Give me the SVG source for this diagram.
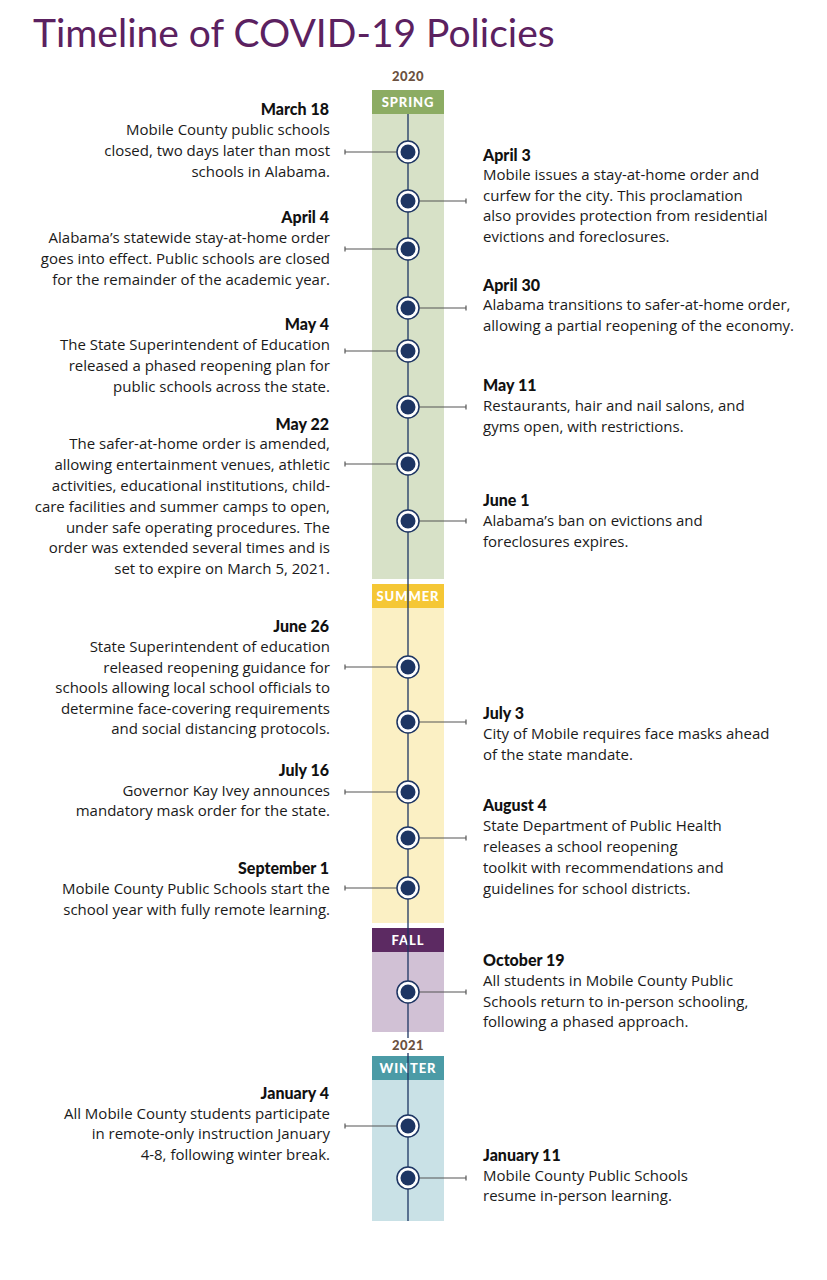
<svg xmlns="http://www.w3.org/2000/svg" width="827" height="1280" viewBox="0 0 827 1280">
<style>
.title{font-family:Lato,"Open Sans",sans-serif;font-size:39px;fill:#5b2160}
.yr{font-family:Lato,"Open Sans",sans-serif;font-size:13px;font-weight:900;fill:#6b5140;text-anchor:middle;letter-spacing:0.5px}
.sea{font-family:Lato,"Open Sans",sans-serif;font-size:13px;font-weight:900;fill:#ffffff;text-anchor:middle;letter-spacing:0.9px}
.h{font-family:Lato,"Open Sans",sans-serif;font-size:16px;font-weight:900;fill:#111}
.t{font-family:"Open Sans",Lato,sans-serif;font-size:15px;fill:#1a1a1a}
.L{text-anchor:end}
.c{stroke:#555;stroke-width:1.2;fill:none}
.ring{fill:#fff;stroke:#1d3563;stroke-width:1.5}
.dot{fill:#1d3563}
</style>
<rect width="827" height="1280" fill="#fff"/>
<text class="title" x="33" y="47">Timeline of COVID-19 Policies</text>

<g id="bands">
<text class="yr" x="408" y="81">2020</text>
<rect x="372" y="90" width="72" height="24" fill="#8cac63"/>
<text class="sea" x="408" y="107">SPRING</text>
<rect x="372" y="114" width="72" height="465" fill="#d7e1c7"/>
<rect x="372" y="584" width="72" height="24" fill="#f5c735"/>
<text class="sea" x="408" y="601">SUMMER</text>
<rect x="372" y="608" width="72" height="315" fill="#fbf0c4"/>
<rect x="372" y="928" width="72" height="24" fill="#5c2a62"/>
<text class="sea" x="408" y="945">FALL</text>
<rect x="372" y="952" width="72" height="80" fill="#d1c1d5"/>
<rect x="372" y="1056" width="72" height="24" fill="#4b9ba6"/>
<text class="sea" x="408" y="1073">WINTER</text>
<rect x="372" y="1080" width="72" height="141" fill="#c9e1e6"/>
</g>

<g id="connectors">
<line x1="408" y1="114" x2="408" y2="1221" stroke="#1d3563" stroke-width="1.3"/>
<path class="c" d="M345 152H397M345 149.5V154.5"/>
<path class="c" d="M419 201H466M466 198.5V203.5"/>
<path class="c" d="M345 249H397M345 246.5V251.5"/>
<path class="c" d="M419 308H466M466 305.5V310.5"/>
<path class="c" d="M345 351H397M345 348.5V353.5"/>
<path class="c" d="M419 407H466M466 404.5V409.5"/>
<path class="c" d="M345 464H397M345 461.5V466.5"/>
<path class="c" d="M419 521H466M466 518.5V523.5"/>
<path class="c" d="M345 667H397M345 664.5V669.5"/>
<path class="c" d="M419 722H466M466 719.5V724.5"/>
<path class="c" d="M345 792H397M345 789.5V794.5"/>
<path class="c" d="M419 838H466M466 835.5V840.5"/>
<path class="c" d="M345 888H397M345 885.5V890.5"/>
<path class="c" d="M419 992H466M466 989.5V994.5"/>
<path class="c" d="M345 1126H397M345 1123.5V1128.5"/>
<path class="c" d="M419 1178H466M466 1175.5V1180.5"/>
</g>

<g id="year2021">
<rect x="388" y="1038" width="40" height="15" fill="#fff"/>
<text class="yr" x="408" y="1050">2021</text>
</g>

<defs>
<g id="node"><circle r="11" class="ring"/><circle r="7.5" class="dot"/></g>
</defs>
<g id="markers">
<use href="#node" x="408" y="152"/>
<use href="#node" x="408" y="201"/>
<use href="#node" x="408" y="249"/>
<use href="#node" x="408" y="308"/>
<use href="#node" x="408" y="351"/>
<use href="#node" x="408" y="407"/>
<use href="#node" x="408" y="464"/>
<use href="#node" x="408" y="521"/>
<use href="#node" x="408" y="667"/>
<use href="#node" x="408" y="722"/>
<use href="#node" x="408" y="792"/>
<use href="#node" x="408" y="838"/>
<use href="#node" x="408" y="888"/>
<use href="#node" x="408" y="992"/>
<use href="#node" x="408" y="1126"/>
<use href="#node" x="408" y="1178"/>
</g>

<g id="mar18">
<text class="h L" x="329" y="115">March 18</text>
<text class="t L" x="330" y="135">Mobile County public schools</text>
<text class="t L" x="330" y="156">closed, two days later than most</text>
<text class="t L" x="330" y="177">schools in Alabama.</text>
</g>
<g id="apr4">
<text class="h L" x="329" y="223">April 4</text>
<text class="t L" x="330" y="243">Alabama’s statewide stay-at-home order</text>
<text class="t L" x="330" y="264">goes into effect. Public schools are closed</text>
<text class="t L" x="330" y="285">for the remainder of the academic year.</text>
</g>
<g id="may4">
<text class="h L" x="329" y="330">May 4</text>
<text class="t L" x="330" y="350">The State Superintendent of Education</text>
<text class="t L" x="330" y="371">released a phased reopening plan for</text>
<text class="t L" x="330" y="392">public schools across the state.</text>
</g>
<g id="may22">
<text class="h L" x="329" y="430">May 22</text>
<text class="t L" x="330" y="449">The safer-at-home order is amended,</text>
<text class="t L" x="330" y="470">allowing entertainment venues, athletic</text>
<text class="t L" x="330" y="491">activities, educational institutions, child-</text>
<text class="t L" x="330" y="512">care facilities and summer camps to open,</text>
<text class="t L" x="330" y="533">under safe operating procedures. The</text>
<text class="t L" x="330" y="553">order was extended several times and is</text>
<text class="t L" x="330" y="574">set to expire on March 5, 2021.</text>
</g>
<g id="jun26">
<text class="h L" x="329" y="632">June 26</text>
<text class="t L" x="330" y="652">State Superintendent of education</text>
<text class="t L" x="330" y="673">released reopening guidance for</text>
<text class="t L" x="330" y="693">schools allowing local school officials to</text>
<text class="t L" x="330" y="714">determine face-covering requirements</text>
<text class="t L" x="330" y="734">and social distancing protocols.</text>
</g>
<g id="jul16">
<text class="h L" x="329" y="776">July 16</text>
<text class="t L" x="330" y="796">Governor Kay Ivey announces</text>
<text class="t L" x="330" y="816">mandatory mask order for the state.</text>
</g>
<g id="sep1">
<text class="h L" x="329" y="874">September 1</text>
<text class="t L" x="330" y="894">Mobile County Public Schools start the</text>
<text class="t L" x="330" y="915">school year with fully remote learning.</text>
</g>
<g id="jan4">
<text class="h L" x="329" y="1099">January 4</text>
<text class="t L" x="330" y="1119">All Mobile County students participate</text>
<text class="t L" x="330" y="1139">in remote-only instruction January</text>
<text class="t L" x="330" y="1160">4-8, following winter break.</text>
</g>

<g id="apr3">
<text class="h" x="483" y="161">April 3</text>
<text class="t" x="483" y="180">Mobile issues a stay-at-home order and</text>
<text class="t" x="483" y="201">curfew for the city. This proclamation</text>
<text class="t" x="483" y="221">also provides protection from residential</text>
<text class="t" x="483" y="242">evictions and foreclosures.</text>
</g>
<g id="apr30">
<text class="h" x="483" y="291">April 30</text>
<text class="t" x="483" y="310">Alabama transitions to safer-at-home order,</text>
<text class="t" x="483" y="331">allowing a partial reopening of the economy.</text>
</g>
<g id="may11">
<text class="h" x="483" y="391">May 11</text>
<text class="t" x="483" y="411">Restaurants, hair and nail salons, and</text>
<text class="t" x="483" y="432">gyms open, with restrictions.</text>
</g>
<g id="jun1">
<text class="h" x="483" y="506">June 1</text>
<text class="t" x="483" y="526">Alabama’s ban on evictions and</text>
<text class="t" x="483" y="547">foreclosures expires.</text>
</g>
<g id="jul3">
<text class="h" x="483" y="719">July 3</text>
<text class="t" x="483" y="739">City of Mobile requires face masks ahead</text>
<text class="t" x="483" y="760">of the state mandate.</text>
</g>
<g id="aug4">
<text class="h" x="483" y="811">August 4</text>
<text class="t" x="483" y="831">State Department of Public Health</text>
<text class="t" x="483" y="852">releases a school reopening</text>
<text class="t" x="483" y="873">toolkit with recommendations and</text>
<text class="t" x="483" y="894">guidelines for school districts.</text>
</g>
<g id="oct19">
<text class="h" x="483" y="966">October 19</text>
<text class="t" x="483" y="986">All students in Mobile County Public</text>
<text class="t" x="483" y="1007">Schools return to in-person schooling,</text>
<text class="t" x="483" y="1027">following a phased approach.</text>
</g>
<g id="jan11">
<text class="h" x="483" y="1161">January 11</text>
<text class="t" x="483" y="1181">Mobile County Public Schools</text>
<text class="t" x="483" y="1201">resume in-person learning.</text>
</g>
</svg>
